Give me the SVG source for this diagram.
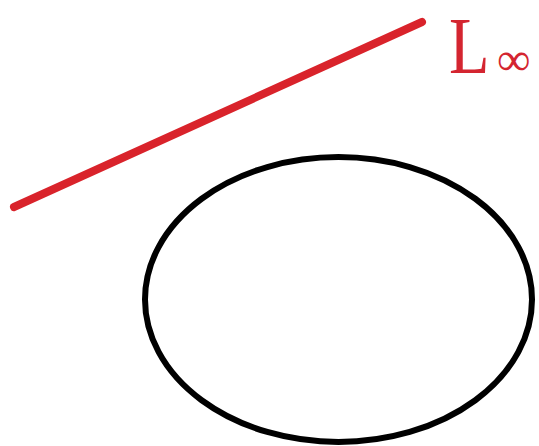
<svg xmlns="http://www.w3.org/2000/svg" width="539" height="446" viewBox="0 0 539 446">
<style>
.lbl{font-family:"Liberation Serif","Times New Roman",serif;fill:#d42530}
</style>
<rect width="539" height="446" fill="#fff"/>
<g id="connectors">
<line id="L-infinity" x1="14" y1="207" x2="422" y2="22" stroke="#d9232b" stroke-width="8" stroke-linecap="round"/>
</g>
<g id="conic">
<ellipse cx="338.5" cy="299.5" rx="193.5" ry="142.5" fill="none" stroke="#000" stroke-width="6"/>
</g>
<g id="label">
<text class="lbl" x="449" y="73" font-size="81" transform="translate(449 73) scale(0.82 1) translate(-449 -73)">L</text>
<text class="lbl" x="497" y="75" font-size="47">∞</text>
</g>
</svg>
